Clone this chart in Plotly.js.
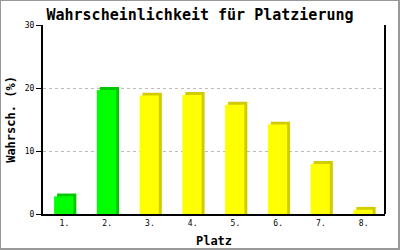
<!DOCTYPE html>
<html><head><meta charset="utf-8">
<script src="https://cdn.plot.ly/plotly-3.0.1.min.js"></script>
<style>
html,body{margin:0;padding:0;background:#fff;}
#wrap{position:relative;width:400px;height:250px;}
#chart{width:400px;height:250px;}
#frame{position:absolute;left:0;top:0;width:400px;height:250px;box-sizing:border-box;border:2px solid #999;border-top-width:1px;border-left-width:1px;pointer-events:none;}
</style></head>
<body>
<div id="wrap"><div id="chart"></div><div id="frame"></div></div>
<script>
const categories = ["1.", "2.", "3.", "4.", "5.", "6.", "7.", "8."];
const values = [2.8, 19.7, 18.8, 18.9, 17.35, 14.2, 7.95, 0.68];
const frontColors = ["#00ff00", "#00ff00", "#ffff00", "#ffff00", "#ffff00", "#ffff00", "#ffff00", "#ffff00"];
const shadowColors = ["#00c800", "#00c800", "#d0cc00", "#d0cc00", "#d0cc00", "#d0cc00", "#d0cc00", "#d0cc00"];
const shadowLift = 0.45;

const shadow = {
  type: 'bar', x: categories, y: values.map(v => v + shadowLift),
  width: 0.45, offset: -0.17,
  marker: {color: shadowColors, line: {width: 0}},
  hoverinfo: 'skip', showlegend: false
};
const front = {
  type: 'bar', x: categories, y: values,
  width: 0.45, offset: -0.24,
  marker: {color: frontColors, line: {width: 0}},
  showlegend: false
};

const mono = "DejaVu Sans Mono, monospace";
const layout = {
  width: 400, height: 250,
  margin: {l: 43, r: 15, t: 25, b: 36, pad: 0},
  paper_bgcolor: '#ffffff', plot_bgcolor: '#ffffff',
  barmode: 'overlay',
  title: {text: 'Wahrscheinlichkeit für Platzierung', font: {family: mono, size: 15, color: '#000', weight: 'bold'},
          x: 0.5, xanchor: 'center', y: 0.94, yref: 'container', yanchor: 'middle'},
  xaxis: {
    type: 'category', showline: true, linecolor: '#000', linewidth: 2,
    ticks: '', showgrid: false, zeroline: false,
    tickfont: {family: mono, size: 8, color: '#000'},
    title: {text: 'Platz', font: {family: mono, size: 12, color: '#000', weight: 'bold'}, standoff: 10}
  },
  yaxis: {
    range: [0, 30], tickvals: [0, 10, 20, 30], showline: true, linecolor: '#000', linewidth: 2,
    ticks: 'outside', ticklen: 5, tickwidth: 1, tickcolor: '#000',
    showgrid: true, gridcolor: '#bbbbbb', griddash: 'dot', gridwidth: 1, zeroline: false,
    tickfont: {family: mono, size: 8, color: '#000'},
    title: {text: 'Wahrsch. (%)', font: {family: mono, size: 12, color: '#000', weight: 'bold'}, standoff: 7}
  },
  yaxis2: {
    range: [0, 30], overlaying: 'y', side: 'left', tickvals: [10, 20, 30], showticklabels: false,
    ticks: 'inside', ticklen: 4, tickwidth: 1, tickcolor: '#000', showgrid: false, zeroline: false, showline: false
  },
  shapes: [
    {type: 'line', xref: 'paper', yref: 'paper', x0: 1, x1: 1, y0: 0, y1: 1, line: {color: '#000', width: 2}}
  ]
};
Plotly.newPlot('chart', [shadow, front], layout, {displayModeBar: false, staticPlot: true});
</script>
</body></html>
